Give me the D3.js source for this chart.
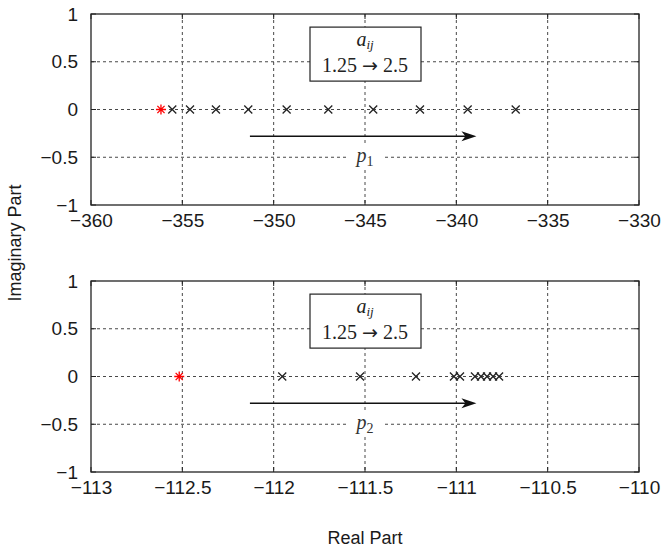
<!DOCTYPE html>
<html>
<head>
<meta charset="utf-8">
<script src="https://cdn.jsdelivr.net/npm/d3@7"></script>
<style>
  body { margin: 0; background: #fff; }
  svg { display: block; }
</style>
</head>
<body>
<svg id="chart" width="663" height="553"></svg>
<script>
// tick labels
const realTicks1 = [-360, -355, -350, -345, -340, -335, -330];
const realTicks2 = [-113, -112.5, -112, -111.5, -111, -110.5, -110];
const imagTicks = [1, 0.5, 0, -0.5, -1];

// p1 root locus (a_ij 1.25 -> 2.5)
const p1Start = [-356.17];
const p1StartImag = [0];
const p1Real = [-355.55, -354.58, -353.16, -351.39, -349.29, -347.01, -344.55, -341.99, -339.38, -336.75];
const p1Imag = [0, 0, 0, 0, 0, 0, 0, 0, 0, 0];

// p2 root locus
const p2Start = [-112.517];
const p2StartImag = [0];
const p2Real = [-111.953, -111.527, -111.221, -111.013, -110.980, -110.898, -110.865, -110.832, -110.799, -110.766];
const p2Imag = [0, 0, 0, 0, 0, 0, 0, 0, 0, 0];

// annotations (data units)
const arrow1 = [-351.3, -338.9];
const arrow2 = [-112.13, -110.89];
const arrowImag = -0.28;
const boxCenter1 = -345, boxCenter2 = -111.5;

const svg = d3.select("#chart");
const left = 91, right = 639;
const fontSans = '"Liberation Sans", Arial, sans-serif';
const fontSerif = '"Liberation Serif", "DejaVu Serif", serif';

function drawPanel(top, bottom, ticks, starX, starY, ptsX, ptsY, arrow, boxX, sub) {
  const x = d3.scaleLinear().domain([ticks[0], ticks[ticks.length - 1]]).range([left, right]);
  const y = d3.scaleLinear().domain([-1, 1]).range([bottom, top]);
  const g = svg.append("g");

  // dashed grid
  g.append("g").selectAll("line").data(ticks.slice(1, -1)).join("line")
    .attr("x1", d => x(d)).attr("x2", d => x(d))
    .attr("y1", top).attr("y2", bottom);
  g.append("g").selectAll("line").data(imagTicks.slice(1, -1)).join("line")
    .attr("x1", left).attr("x2", right)
    .attr("y1", d => y(d)).attr("y2", d => y(d));
  g.selectAll("line").attr("stroke", "#333").attr("stroke-width", 0.9)
    .attr("stroke-dasharray", "3,3");

  // inward ticks on all sides
  const tl = 5;
  const tk = g.append("g").attr("stroke", "#222").attr("stroke-width", 1);
  ticks.forEach(d => {
    tk.append("line").attr("x1", x(d)).attr("x2", x(d)).attr("y1", top).attr("y2", top + tl);
    tk.append("line").attr("x1", x(d)).attr("x2", x(d)).attr("y1", bottom).attr("y2", bottom - tl);
  });
  imagTicks.forEach(d => {
    tk.append("line").attr("x1", left).attr("x2", left + tl).attr("y1", y(d)).attr("y2", y(d));
    tk.append("line").attr("x1", right).attr("x2", right - tl).attr("y1", y(d)).attr("y2", y(d));
  });

  // axes labels
  const xa = g.append("g").attr("transform", `translate(0,${bottom})`)
    .call(d3.axisBottom(x).tickValues(ticks).tickSize(0).tickPadding(9)
      .tickFormat(d => d3.format("")(d).replace("-", "\u2212")));
  const ya = g.append("g").attr("transform", `translate(${left},0)`)
    .call(d3.axisLeft(y).tickValues(imagTicks).tickSize(0).tickPadding(13)
      .tickFormat(d => d3.format("")(d).replace("-", "\u2212")));
  [xa, ya].forEach(a => {
    a.select(".domain").remove();
    a.selectAll("text").attr("font-size", 19).attr("fill", "#1a1a1a").attr("font-family", fontSans);
  });

  // frame
  g.append("rect").attr("x", left).attr("y", top).attr("width", right - left).attr("height", bottom - top)
    .attr("fill", "none").attr("stroke", "#222").attr("stroke-width", 1.3);

  // annotation box
  const bx = x(boxX), by = y(0.58);
  const bg = g.append("g");
  bg.append("rect").attr("x", bx - 55).attr("y", by - 27).attr("width", 111).attr("height", 54)
    .attr("fill", "#fff").attr("stroke", "#222").attr("stroke-width", 1.2);
  const t1 = bg.append("text").attr("x", bx).attr("y", by - 8).attr("text-anchor", "middle")
    .attr("font-family", fontSerif).attr("font-size", 20).attr("fill", "#222");
  t1.append("tspan").attr("font-style", "italic").text("a");
  t1.append("tspan").attr("font-style", "italic").attr("font-size", 13).attr("dy", 3).text("ij");
  const t2 = bg.append("text").attr("x", bx).attr("y", by + 18).attr("text-anchor", "middle")
    .attr("font-family", fontSerif).attr("font-size", 20).attr("fill", "#222");
  t2.append("tspan").text("1.25 ");
  t2.append("tspan").attr("font-family", '"DejaVu Sans", sans-serif').attr("font-size", 19).text("\u2192");
  t2.append("tspan").text(" 2.5");

  // arrow
  const ay = y(arrowImag);
  const ax0 = x(arrow[0]), ax1 = x(arrow[1]);
  g.append("line").attr("x1", ax0).attr("x2", ax1 - 8).attr("y1", ay).attr("y2", ay)
    .attr("stroke", "#111").attr("stroke-width", 1.5);
  g.append("path")
    .attr("d", `M${ax1},${ay} L${ax1 - 15},${ay - 5} L${ax1 - 11},${ay} L${ax1 - 15},${ay + 5} Z`)
    .attr("fill", "#111");

  // p label with white background
  const px = x(boxX), py = y(-0.5);
  g.append("rect").attr("x", px - 19).attr("y", py - 12).attr("width", 38).attr("height", 22).attr("fill", "#fff");
  const pt = g.append("text").attr("x", px).attr("y", py + 5).attr("text-anchor", "middle")
    .attr("font-family", fontSerif).attr("font-size", 20).attr("fill", "#333");
  pt.append("tspan").attr("font-style", "italic").text("p");
  pt.append("tspan").attr("font-size", 14).attr("dy", 4).text(sub);

  // x markers
  const s = 4;
  g.append("g").selectAll("path").data(ptsX).join("path")
    .attr("d", (d, i) => {
      const cx = x(d), cy = y(ptsY[i]);
      return `M${cx - s},${cy - s}L${cx + s},${cy + s}M${cx - s},${cy + s}L${cx + s},${cy - s}`;
    })
    .attr("stroke", "#222").attr("stroke-width", 1.3).attr("fill", "none");

  // red star
  const r = 5;
  g.append("g").selectAll("path").data(starX).join("path")
    .attr("d", (d, i) => {
      const cx = x(d), cy = y(starY[i]), q = r * 0.72;
      return `M${cx - r},${cy}L${cx + r},${cy}M${cx},${cy - r}L${cx},${cy + r}` +
        `M${cx - q},${cy - q}L${cx + q},${cy + q}M${cx - q},${cy + q}L${cx + q},${cy - q}`;
    })
    .attr("stroke", "#f00").attr("stroke-width", 1.3).attr("fill", "none");
}

drawPanel(14, 205, realTicks1, p1Start, p1StartImag, p1Real, p1Imag, arrow1, boxCenter1, "1");
drawPanel(281, 472, realTicks2, p2Start, p2StartImag, p2Real, p2Imag, arrow2, boxCenter2, "2");

// shared axis titles
svg.append("text").attr("transform", "translate(21,243) rotate(-90)")
  .attr("text-anchor", "middle").attr("font-family", fontSans).attr("font-size", 18)
  .attr("fill", "#1a1a1a").text("Imaginary Part");
svg.append("text").attr("x", 365).attr("y", 544)
  .attr("text-anchor", "middle").attr("font-family", fontSans).attr("font-size", 18)
  .attr("fill", "#1a1a1a").text("Real Part");
</script>
</body>
</html>
